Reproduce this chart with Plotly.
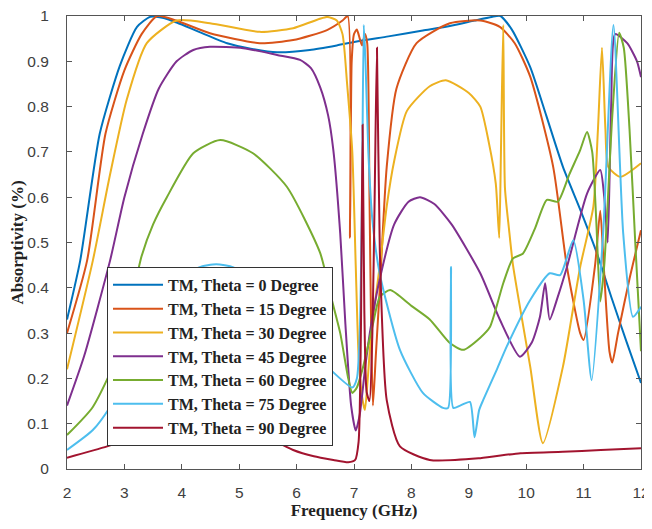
import plotly.graph_objects as go

# ---------------- data ----------------
names = ["TM, Theta = 0 Degree", "TM, Theta = 15 Degree", "TM, Theta = 30 Degree",
         "TM, Theta = 45 Degree", "TM, Theta = 60 Degree", "TM, Theta = 75 Degree",
         "TM, Theta = 90 Degree"]

x_t0 = [2, 2.23, 2.57, 2.92, 3.22, 3.45, 3.7, 3.92, 4.3, 4.79, 5.2, 5.66, 6.23, 6.7, 7.1, 7.6,
        8.2, 8.67, 9.1, 9.4, 9.55, 9.75, 10.07, 10.35, 10.64, 10.95, 11.23, 11.5, 11.75, 12]
y_t0 = [0.33, 0.46, 0.74, 0.89, 0.976, 0.998, 0.995, 0.985, 0.965, 0.94, 0.928, 0.92, 0.925, 0.935,
        0.945, 0.955, 0.968, 0.978, 0.99, 0.998, 1.0, 0.97, 0.887, 0.78, 0.667, 0.57, 0.477, 0.373,
        0.28, 0.19]

x_t15 = [2, 2.35, 2.67, 3.0, 3.3, 3.57, 3.9, 4.49, 5.36, 5.94, 6.53, 6.8, 6.89, 6.93, 6.96, 7.0,
         7.05, 7.1, 7.14, 7.19, 7.23, 7.27, 7.3, 7.33, 7.38, 7.45, 7.57, 7.74, 8.09, 8.67, 9.2,
         9.54, 9.8, 10.07, 10.47, 10.71, 10.94, 11.0, 11.2, 11.29, 11.35, 11.45, 11.5, 11.6,
         11.8, 12]
y_t15 = [0.30, 0.46, 0.74, 0.88, 0.96, 1.0, 0.99, 0.962, 0.94, 0.947, 0.969, 0.99, 1.0, 0.51, 0.9,
         0.96, 0.97, 0.95, 0.935, 0.96, 0.94, 0.6, 0.3, 0.14, 0.25, 0.40, 0.667, 0.84, 0.94, 0.984,
         0.99, 0.976, 0.94, 0.866, 0.667, 0.446, 0.30, 0.285, 0.45, 0.57, 0.45, 0.26, 0.235, 0.3,
         0.42, 0.527]

x_t30 = [2, 2.45, 2.75, 3.04, 3.39, 3.91, 4.49, 5.36, 5.94, 6.53, 6.7, 6.8, 6.88, 6.97, 7.03,
         7.08, 7.14, 7.19, 7.24, 7.3, 7.45, 7.57, 7.7, 7.92, 8.32, 8.6, 9.0, 9.2, 9.35, 9.47, 9.53,
         9.56, 9.6, 9.63, 9.7, 9.77, 10.07, 10.29, 10.64, 10.94, 11.17, 11.25, 11.32, 11.38,
         11.43, 11.64, 12]
y_t30 = [0.22, 0.46, 0.65, 0.815, 0.94, 0.99, 0.984, 0.965, 0.973, 0.998, 0.99, 0.96, 0.85, 0.7,
         0.45, 0.25, 0.16, 0.13, 0.2, 0.3, 0.45, 0.58, 0.68, 0.79, 0.845, 0.858, 0.83, 0.80, 0.72,
         0.63, 0.51, 0.7, 0.98, 0.62, 0.53, 0.45, 0.226, 0.057, 0.226, 0.446, 0.579, 0.75, 0.93,
         0.75, 0.667, 0.645, 0.675]

x_t45 = [2, 2.3, 2.75, 3.0, 3.32, 3.6, 3.91, 4.2, 4.49, 5.07, 5.66, 6.06, 6.25, 6.41, 6.55, 6.64,
         6.76, 6.85, 6.95, 7.03, 7.1, 7.2, 7.3, 7.45, 7.7, 7.95, 8.15, 8.4, 8.7, 9.2, 9.54, 9.89,
         10.1, 10.24, 10.33, 10.41, 10.55, 10.71, 11.06, 11.29, 11.36, 11.42, 11.48, 11.55,
         11.76, 11.93, 12]
y_t45 = [0.14, 0.25, 0.46, 0.6, 0.74, 0.84, 0.90, 0.925, 0.932, 0.929, 0.914, 0.903, 0.885, 0.843,
         0.78, 0.704, 0.52, 0.32, 0.14, 0.085, 0.12, 0.23, 0.32, 0.42, 0.54, 0.59, 0.60, 0.585,
         0.54, 0.432, 0.33, 0.248, 0.28, 0.336, 0.41, 0.33, 0.38, 0.446, 0.608, 0.66, 0.6, 0.5,
         0.8, 0.96, 0.94, 0.90, 0.865]

x_t60 = [2, 2.45, 2.92, 3.3, 3.5, 3.74, 4.2, 4.67, 5.24, 5.83, 6.41, 6.6, 6.76, 6.9, 6.97, 7.05,
         7.16, 7.33, 7.45, 7.63, 8.0, 8.32, 8.67, 8.9, 9.2, 9.37, 9.6, 9.77, 9.94, 10.15, 10.36,
         10.55, 10.75, 10.94, 11.06, 11.15, 11.22, 11.29, 11.36, 11.5, 11.62, 11.7, 11.8, 11.9, 12]
y_t60 = [0.075, 0.137, 0.263, 0.47, 0.54, 0.60, 0.697, 0.726, 0.697, 0.623, 0.477, 0.38, 0.30,
         0.2, 0.168, 0.18, 0.226, 0.32, 0.38, 0.395, 0.36, 0.33, 0.278, 0.263, 0.29, 0.314, 0.41,
         0.465, 0.475, 0.53, 0.594, 0.59, 0.65, 0.704, 0.744, 0.70, 0.55, 0.37, 0.45, 0.78, 0.963,
         0.93, 0.75, 0.5, 0.26]

x_t75 = [2, 2.45, 2.75, 3.1, 3.5, 4.0, 4.3, 4.6, 4.9, 5.3, 5.7, 6.1, 6.5, 6.97, 7.05, 7.1, 7.14,
         7.17, 7.2, 7.25, 7.32, 7.45, 7.8, 8.2, 8.55, 8.64, 8.69, 8.73, 8.85, 9.02, 9.1, 9.18, 9.25,
         9.49, 9.66, 10.07, 10.41, 10.59, 10.82, 11.0, 11.14, 11.34, 11.52, 11.69, 11.86, 12]
y_t75 = [0.042, 0.086, 0.137, 0.22, 0.31, 0.42, 0.445, 0.452, 0.445, 0.41, 0.35, 0.28, 0.23, 0.18,
         0.2, 0.3, 0.6, 0.98, 0.9, 0.7, 0.55, 0.43, 0.263, 0.168, 0.135, 0.135, 0.446, 0.135,
         0.14, 0.148, 0.07, 0.13, 0.152, 0.22, 0.27, 0.373, 0.432, 0.428, 0.505, 0.373, 0.196,
         0.52, 0.98, 0.52, 0.336, 0.358]

x_t90 = [2, 2.7, 3.3, 4.02, 4.5, 5.13, 5.5, 5.94, 6.3, 6.64, 6.9, 7.02, 7.08, 7.12, 7.15, 7.18,
         7.22, 7.27, 7.32, 7.36, 7.4, 7.45, 7.57, 7.8, 8.32, 9.2, 9.9, 10.64, 11.3, 12]
y_t90 = [0.025, 0.05, 0.075, 0.10, 0.115, 0.093, 0.07, 0.042, 0.028, 0.02, 0.015, 0.02, 0.06, 0.3,
         0.76, 0.35, 0.17, 0.15, 0.3, 0.6, 0.93, 0.48, 0.152, 0.05, 0.02, 0.024, 0.035, 0.038,
         0.042, 0.046]

xs = [x_t0, x_t15, x_t30, x_t45, x_t60, x_t75, x_t90]
ys = [y_t0, y_t15, y_t30, y_t45, y_t60, y_t75, y_t90]

x_ticks = [2, 3, 4, 5, 6, 7, 8, 9, 10, 11, 12]
y_ticks = [0, 0.1, 0.2, 0.3, 0.4, 0.5, 0.6, 0.7, 0.8, 0.9, 1]
y_ticklabels = ["0", "0.1", "0.2", "0.3", "0.4", "0.5", "0.6", "0.7", "0.8", "0.9", "1"]

colors = ["#0072BD", "#D95319", "#EDB120", "#7E2F8E", "#77AC30", "#4DBEEE", "#A2142F"]

# ---------------- figure ----------------
fig = go.Figure()
for n, x, y, c in zip(names, xs, ys, colors):
    fig.add_trace(go.Scatter(x=x, y=y, name=n, mode="lines",
                             line=dict(color=c, width=2, shape="spline", smoothing=0.6)))

axis_common = dict(showline=True, linecolor="#555555", linewidth=1, mirror="ticks",
                   ticks="inside", ticklen=5, tickcolor="#555555", showgrid=False,
                   zeroline=False, automargin=False, ticklabeloverflow="allow",
                   tickfont=dict(family="Liberation Sans, Arial", size=15.5, color="#404040"))

fig.update_xaxes(range=[2, 12], tickvals=x_ticks, ticklabelstandoff=9,
                 title=dict(text="Frequency (GHz)", standoff=3,
                            font=dict(family="Liberation Serif, Times New Roman", size=17,
                                      color="#222222", weight="bold")),
                 **axis_common)
fig.update_yaxes(range=[0, 1], tickvals=y_ticks, ticktext=y_ticklabels, ticklabelstandoff=14,
                 title=dict(text="Absorptivity (%)", standoff=2,
                            font=dict(family="Liberation Serif, Times New Roman", size=17,
                                      color="#222222", weight="bold")),
                 **axis_common)

# the page adds an 8px body margin, so the figure is sized/offset to compensate
fig.update_layout(
    width=644, height=513,
    margin=dict(l=59, r=11, t=8, b=52, autoexpand=False),
    paper_bgcolor="white", plot_bgcolor="white",
    legend=dict(x=0.0697, y=0.446, xanchor="left", yanchor="top",
                bgcolor="white", bordercolor="#333333", borderwidth=1,
                itemwidth=50, tracegroupgap=0,
                font=dict(family="Liberation Serif, Times New Roman", size=16,
                          color="#222222", weight="bold")),
    showlegend=True,
)

fig.write_html("out.html")
